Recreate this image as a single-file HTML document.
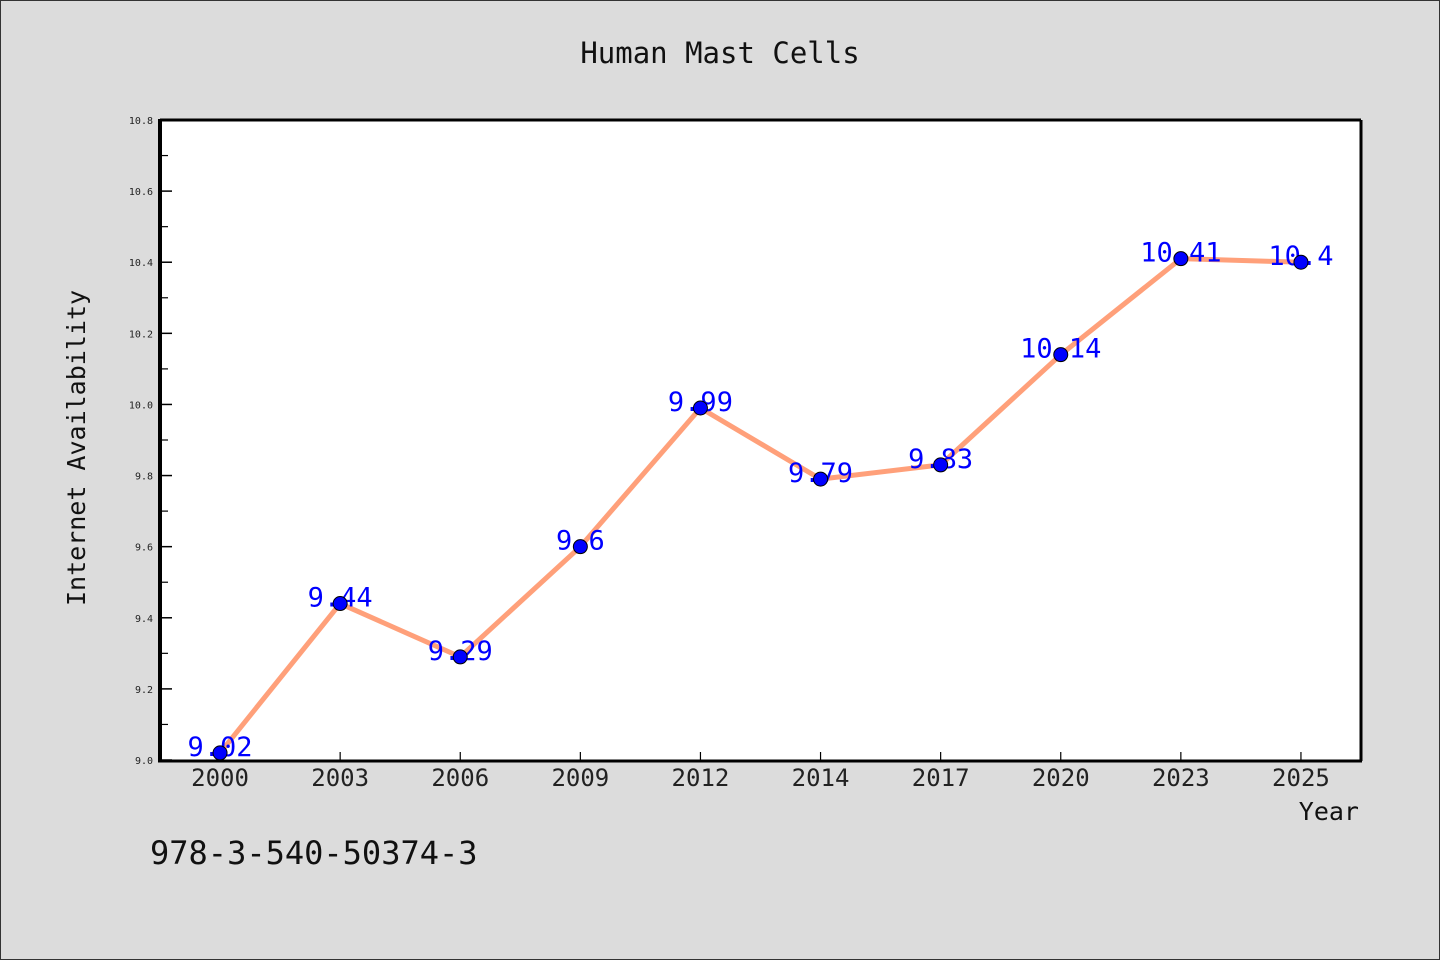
<!DOCTYPE html>
<html><head><meta charset="utf-8"><style>
html,body{margin:0;padding:0;background:#dcdcdc;}
svg{display:block;}
text{font-family:"WenQuanYi Zen Hei","DejaVu Sans Mono",monospace;}
</style></head><body>
<svg id="chart" width="1440" height="960" viewBox="0 0 1440 960">
<rect x="0.5" y="0.5" width="1439" height="959" fill="#dcdcdc" stroke="#333"/>
<text x="720" y="63" text-anchor="middle" font-size="29" fill="#111">Human Mast Cells</text>
<rect x="160" y="120" width="1201" height="640" fill="#fff"/>
<g id="yaxis"></g>
<g id="xaxis"></g>
<g id="series"></g>
<line x1="160" y1="120" x2="1361" y2="120" stroke="#000" stroke-width="3"/>
<line x1="1361" y1="120" x2="1361" y2="761" stroke="#000" stroke-width="3"/>
<line x1="160" y1="119" x2="160" y2="762" stroke="#000" stroke-width="4"/>
<line x1="158" y1="761" x2="1362" y2="761" stroke="#000" stroke-width="3"/>
<text transform="translate(85,448) rotate(-90)" text-anchor="middle" font-size="25" fill="#111">Internet Availability</text>
<text x="1359" y="820" text-anchor="end" font-size="25" fill="#111">Year</text>
<text x="150" y="864" font-size="32" fill="#111">978-3-540-50374-3</text>
</svg>
<script>
const categories = ["2000","2003","2006","2009","2012","2014","2017","2020","2023","2025"];
const values = [9.02,9.44,9.29,9.6,9.99,9.79,9.83,10.14,10.41,10.4];
const valueLabels = ["9.02","9.44","9.29","9.6","9.99","9.79","9.83","10.14","10.41","10.4"];
const yTicks = [9.0,9.2,9.4,9.6,9.8,10.0,10.2,10.4,10.6,10.8];
const yTickLabels = ["9.0","9.2","9.4","9.6","9.8","10.0","10.2","10.4","10.6","10.8"];
const yMinorTicks = [9.1,9.3,9.5,9.7,9.9,10.1,10.3,10.5,10.7];

const NS="http://www.w3.org/2000/svg";
const L=160,R=1361,T=120,B=760,yMin=9.0,yMax=10.8;
const band=(R-L)/categories.length;
const xs=i=>L+band*(i+0.5);
const ys=v=>B-(v-yMin)/(yMax-yMin)*(B-T);
function mk(tag,attrs,parent,txt){const e=document.createElementNS(NS,tag);for(const k in attrs)e.setAttribute(k,attrs[k]);if(txt!==undefined)e.textContent=txt;parent.appendChild(e);return e;}
const ya=document.getElementById('yaxis'),xa=document.getElementById('xaxis'),sg=document.getElementById('series');
yTicks.forEach((v,i)=>{
  const t=mk('line',{x1:L,x2:L+12,y1:ys(v),y2:ys(v),stroke:'#000','stroke-width':1.5},ya);
  
  
  const lb=mk('text',{x:153,y:ys(v)+4,'text-anchor':'end','font-size':10,fill:'#222'},ya,yTickLabels[i]);
  
  
});
yMinorTicks.forEach(v=>{
  const t=mk('line',{x1:L,x2:L+8,y1:ys(v),y2:ys(v),stroke:'#000','stroke-width':1.2},ya);
  
  
});
categories.forEach((c,i)=>{
  const t=mk('line',{x1:xs(i),x2:xs(i),y1:B,y2:B-8,stroke:'#000','stroke-width':1.2},xa);
  
  
  const lb=mk('text',{x:xs(i),y:786,'text-anchor':'middle','font-size':24,fill:'#222'},xa,c);
  
  
});
const line=mk('polyline',{points:values.map((v,i)=>xs(i)+','+ys(v)).join(' '),fill:'none',stroke:'#ffa07a','stroke-width':5,'stroke-linejoin':'round'},sg);


values.forEach((v,i)=>{
  const lb=mk('text',{x:xs(i),y:ys(v)+3,'text-anchor':'middle','font-size':27,fill:'#0000ff'},sg,valueLabels[i]);
  
  
});
values.forEach((v,i)=>{
  const p=mk('circle',{cx:xs(i),cy:ys(v),r:7,fill:'#0000ff',stroke:'#000','stroke-width':1},sg);
  
  
});
</script>
</body></html>
